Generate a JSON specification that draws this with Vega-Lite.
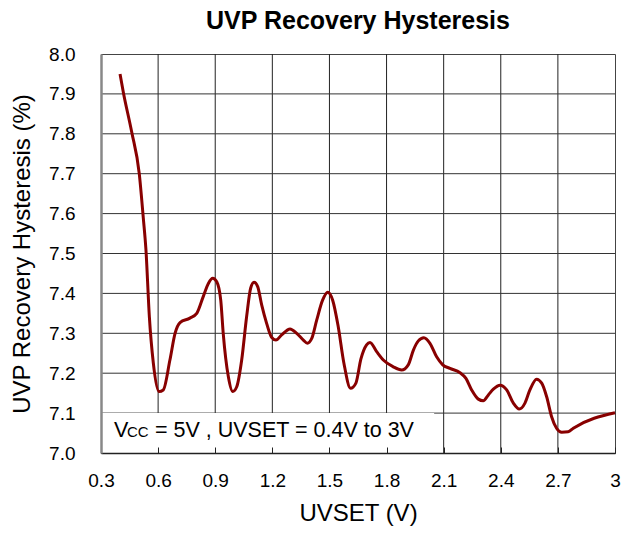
{
  "$schema": "https://vega.github.io/schema/vega-lite/v6.json",
  "width": 514,
  "height": 399,
  "autosize": {"type": "none"},
  "padding": {"left": 101, "top": 54, "right": 23, "bottom": 80},
  "background": "white",
  "config": {
    "font": "Liberation Sans",
    "view": {"stroke": "#444444", "strokeWidth": 1},
    "axis": {"labelFont": "Liberation Sans", "titleFont": "Liberation Sans", "labelColor": "#000000", "titleColor": "#000000", "titleFontWeight": "normal"}
  },
  "title": {
    "text": "UVP Recovery Hysteresis",
    "font": "Liberation Sans",
    "fontSize": 25,
    "fontWeight": "bold",
    "color": "#000000",
    "anchor": "middle",
    "offset": 11
  },
  "datasets": {
    "curve": [
      {"v": 0.400, "h": 7.950}, {"v": 0.417, "h": 7.905}, {"v": 0.461, "h": 7.805}, {"v": 0.501, "h": 7.700},
      {"v": 0.522, "h": 7.590}, {"v": 0.536, "h": 7.510}, {"v": 0.554, "h": 7.342}, {"v": 0.575, "h": 7.225},
      {"v": 0.605, "h": 7.154}, {"v": 0.627, "h": 7.158}, {"v": 0.662, "h": 7.233}, {"v": 0.689, "h": 7.300},
      {"v": 0.715, "h": 7.327}, {"v": 0.767, "h": 7.338}, {"v": 0.803, "h": 7.350}, {"v": 0.837, "h": 7.392},
      {"v": 0.864, "h": 7.425}, {"v": 0.887, "h": 7.438}, {"v": 0.908, "h": 7.429}, {"v": 0.929, "h": 7.383},
      {"v": 0.942, "h": 7.300}, {"v": 0.969, "h": 7.191}, {"v": 0.992, "h": 7.154}, {"v": 1.013, "h": 7.166},
      {"v": 1.039, "h": 7.233}, {"v": 1.065, "h": 7.342}, {"v": 1.086, "h": 7.413}, {"v": 1.104, "h": 7.428},
      {"v": 1.123, "h": 7.417}, {"v": 1.144, "h": 7.371}, {"v": 1.170, "h": 7.325}, {"v": 1.196, "h": 7.290},
      {"v": 1.219, "h": 7.283}, {"v": 1.249, "h": 7.296}, {"v": 1.293, "h": 7.311}, {"v": 1.328, "h": 7.300},
      {"v": 1.363, "h": 7.283}, {"v": 1.384, "h": 7.275}, {"v": 1.407, "h": 7.287}, {"v": 1.433, "h": 7.333},
      {"v": 1.464, "h": 7.383}, {"v": 1.491, "h": 7.403}, {"v": 1.517, "h": 7.383}, {"v": 1.546, "h": 7.317},
      {"v": 1.576, "h": 7.225}, {"v": 1.611, "h": 7.162}, {"v": 1.639, "h": 7.175}, {"v": 1.665, "h": 7.235},
      {"v": 1.695, "h": 7.271}, {"v": 1.713, "h": 7.277}, {"v": 1.748, "h": 7.254}, {"v": 1.783, "h": 7.233},
      {"v": 1.835, "h": 7.216}, {"v": 1.879, "h": 7.208}, {"v": 1.914, "h": 7.221}, {"v": 1.941, "h": 7.258},
      {"v": 1.967, "h": 7.281}, {"v": 1.996, "h": 7.289}, {"v": 2.028, "h": 7.275}, {"v": 2.063, "h": 7.241},
      {"v": 2.095, "h": 7.221}, {"v": 2.133, "h": 7.212}, {"v": 2.186, "h": 7.201}, {"v": 2.217, "h": 7.187},
      {"v": 2.247, "h": 7.158}, {"v": 2.282, "h": 7.135}, {"v": 2.308, "h": 7.131}, {"v": 2.334, "h": 7.145},
      {"v": 2.361, "h": 7.160}, {"v": 2.396, "h": 7.170}, {"v": 2.431, "h": 7.158}, {"v": 2.466, "h": 7.125},
      {"v": 2.497, "h": 7.110}, {"v": 2.527, "h": 7.125}, {"v": 2.553, "h": 7.158}, {"v": 2.588, "h": 7.185},
      {"v": 2.615, "h": 7.175}, {"v": 2.641, "h": 7.141}, {"v": 2.667, "h": 7.091}, {"v": 2.693, "h": 7.062},
      {"v": 2.720, "h": 7.052}, {"v": 2.754, "h": 7.053}, {"v": 2.781, "h": 7.062}, {"v": 3.000, "h": 7.101}
    ],
    "gridx": [{"g": 0.6}, {"g": 0.9}, {"g": 1.2}, {"g": 1.5}, {"g": 1.8}, {"g": 2.1}, {"g": 2.4}, {"g": 2.7}],
    "gridy": [{"g": 7.1}, {"g": 7.2}, {"g": 7.3}, {"g": 7.4}, {"g": 7.5}, {"g": 7.6}, {"g": 7.7}, {"g": 7.8}, {"g": 7.9}],
    "box": [{"x1": 0.3, "x2": 2.05, "y1": 7.0, "y2": 7.1}],
    "noteV": [{"x": 0.368, "y": 7.041, "t": "V"}],
    "noteCC": [{"x": 0.4366, "y": 7.041, "t": "CC"}],
    "noteRest": [{"x": 0.5836, "y": 7.041, "t": "= 5V , UVSET = 0.4V to 3V"}]
  },
  "layer": [
    {
      "data": {"name": "gridx"},
      "mark": {"type": "rule", "color": "#222222", "strokeWidth": 1},
      "encoding": {
        "x": {"field": "g", "type": "quantitative", "scale": {"domain": [0.3, 3], "nice": false, "zero": false},
          "axis": {"values": [0.3, 0.6, 0.9, 1.2, 1.5, 1.8, 2.1, 2.4, 2.7, 3], "tickCount": 20, "format": ".1~f", "grid": false, "zindex": 1,
            "title": "UVSET (V)", "titleFontSize": 24, "titlePadding": 11, "labelFontSize": 19, "labelPadding": 24,
            "ticks": true, "tickSize": -6, "tickColor": "#222222", "domainColor": "#222222", "domainWidth": 1.5, "labelFlush": false, "labelOverlap": false}}
      }
    },
    {
      "data": {"name": "gridy"},
      "mark": {"type": "rule", "color": "#333333", "strokeWidth": 1},
      "encoding": {
        "y": {"field": "g", "type": "quantitative", "scale": {"domain": [7.0, 8.0], "nice": false, "zero": false},
          "axis": {"values": [7.0, 7.1, 7.2, 7.3, 7.4, 7.5, 7.6, 7.7, 7.8, 7.9, 8.0], "tickCount": 20, "format": ".1f", "grid": false, "zindex": 1,
            "title": "UVP Recovery Hysteresis (%)", "titleFontSize": 24, "titlePadding": 14, "labelFontSize": 19, "labelPadding": 26,
            "ticks": false, "domainColor": "#888888", "domainWidth": 2.5, "labelOverlap": false, "labelFlush": false, "labelBound": false}}
      }
    },
    {
      "data": {"name": "box"},
      "mark": {"type": "rect", "color": "white"},
      "encoding": {
        "x": {"field": "x1", "type": "quantitative"}, "x2": {"field": "x2"},
        "y": {"field": "y1", "type": "quantitative"}, "y2": {"field": "y2"}
      }
    },
    {
      "data": {"name": "noteV"},
      "mark": {"type": "text", "fontSize": 21.5, "align": "left", "baseline": "alphabetic", "color": "#000000"},
      "encoding": {"x": {"field": "x", "type": "quantitative"}, "y": {"field": "y", "type": "quantitative"}, "text": {"field": "t"}}
    },
    {
      "data": {"name": "noteCC"},
      "mark": {"type": "text", "fontSize": 15, "align": "left", "baseline": "alphabetic", "color": "#000000"},
      "encoding": {"x": {"field": "x", "type": "quantitative"}, "y": {"field": "y", "type": "quantitative"}, "text": {"field": "t"}}
    },
    {
      "data": {"name": "noteRest"},
      "mark": {"type": "text", "fontSize": 21.5, "align": "left", "baseline": "alphabetic", "color": "#000000"},
      "encoding": {"x": {"field": "x", "type": "quantitative"}, "y": {"field": "y", "type": "quantitative"}, "text": {"field": "t"}}
    },
    {
      "data": {"name": "curve"},
      "mark": {"type": "line", "color": "#880000", "strokeWidth": 3, "interpolate": "monotone"},
      "encoding": {
        "x": {"field": "v", "type": "quantitative"},
        "y": {"field": "h", "type": "quantitative"}
      }
    }
  ]
}
